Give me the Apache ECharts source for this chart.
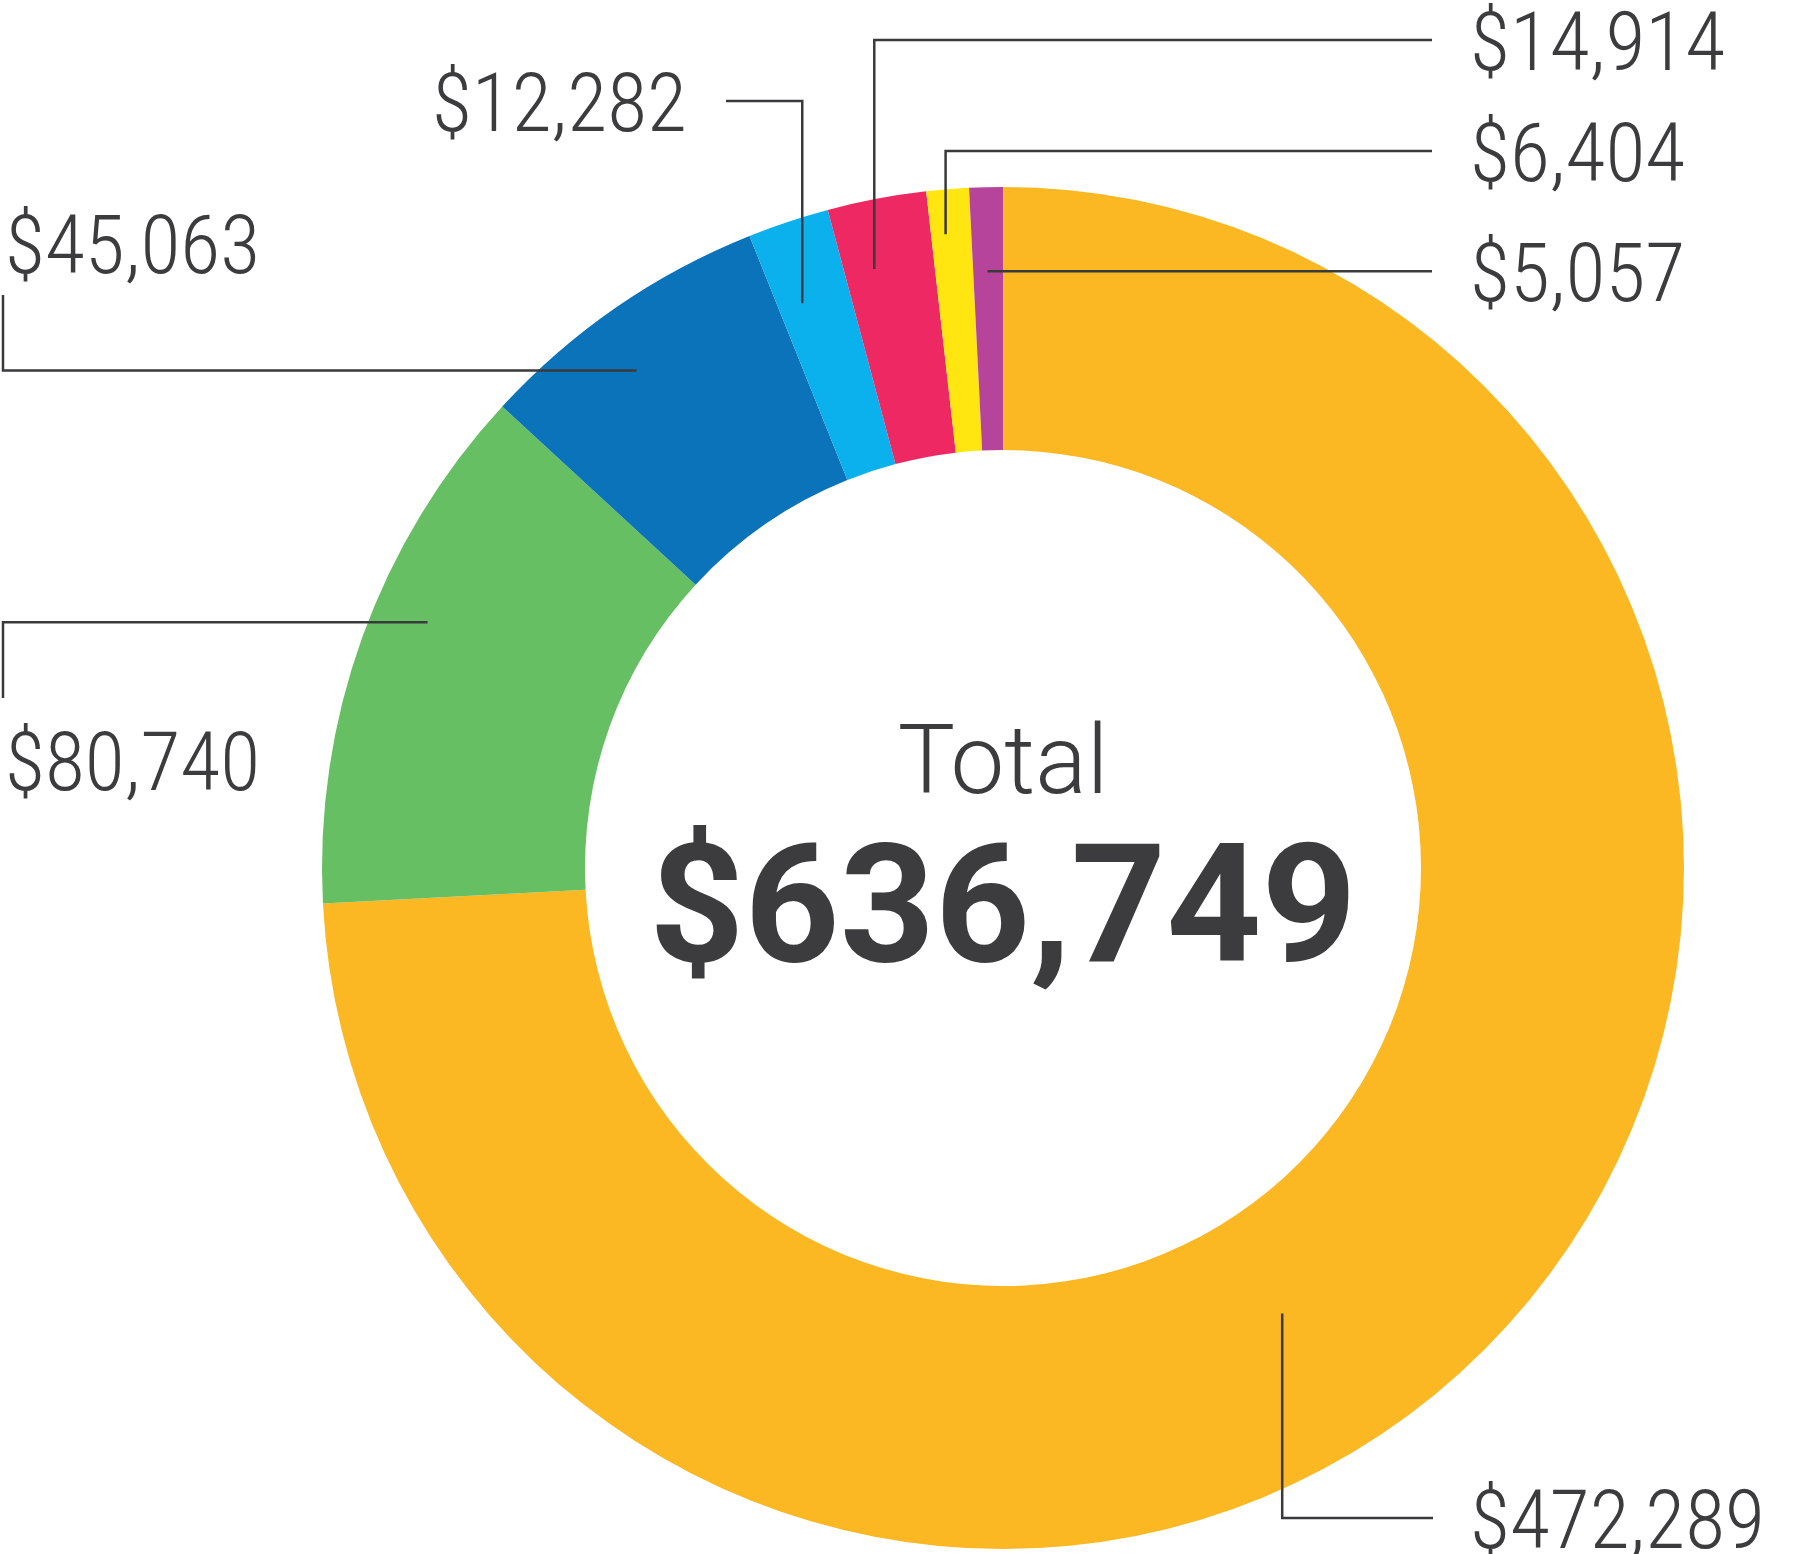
<!DOCTYPE html>
<html><head><meta charset="utf-8">
<script src="https://cdn.jsdelivr.net/npm/echarts@6/dist/echarts.min.js"></script>
<style>html,body{margin:0;padding:0;background:#fff}#main{width:1796px;height:1554px}</style>
</head><body><div id="main"></div>
<script>
// ---- data ----
const categories = ['Segment A', 'Segment B', 'Segment C', 'Segment D', 'Segment E', 'Segment F', 'Segment G'];
const values = [472289, 80740, 45063, 12282, 14914, 6404, 5057];
const colors = ['#FBB823', '#67BF63', '#0A73BA', '#0AB1EC', '#EE2862', '#FFE611', '#B7449B'];
const centerTitle = 'Total';

// ---- layout (annotation placement, not data) ----
const CX = 1003, CY = 868, R0 = 418, R1 = 681;
const labelPlan = [
  {frac: 0.554, rf: 0.41, route: 'v', lineY: 1518, lineEndX: 1433, tx: 1470, ty: 1518, align: 'left'},
  {frac: 0.572, rf: 0.79, route: 'h', lineX: 3, lineEndY: 698, tx: 5, ty: 760, align: 'left'},
  {frac: 0.43,  rf: 0.76, route: 'h', lineX: 3, lineEndY: 295, tx: 5, ty: 243, align: 'left'},
  {frac: 0.33,  rf: 0.69, route: 'v', lineY: 101, lineEndX: 726, tx: 687, ty: 101, align: 'right'},
  {frac: 0.33,  rf: 0.74, route: 'v', lineY: 40, lineEndX: 1432, tx: 1470, ty: 40, align: 'left'},
  {frac: 0.36,  rf: 0.83, route: 'v', lineY: 151, lineEndX: 1432, tx: 1470, ty: 151, align: 'left'},
  {frac: 0.48,  rf: 0.68, route: 's', lineEndX: 1432, tx: 1470, align: 'left'}
];
const TEXT = '#3c3c3e';
const LINE = '#3a3a3c';
const LABEL_FONT = "'Roboto Condensed', Roboto, sans-serif";
const LABEL_SIZE = 82;
const LABEL_DY = 9;

const fmt = v => '$' + v.toLocaleString('en-US');
const total = values.reduce((a, b) => a + b, 0);

const chart = echarts.init(document.getElementById('main'), null, {renderer: 'canvas'});

function sliceLayout(i) {
  try {
    const l = chart.getModel().getSeriesByIndex(0).getData().getItemLayout(i);
    if (l && l.startAngle != null) return l;
  } catch (e) {}
  let start = -Math.PI / 2;
  for (let k = 0; k < i; k++) start += values[k] / total * Math.PI * 2;
  return {cx: CX, cy: CY, r0: R0, r: R1, startAngle: start, endAngle: start + values[i] / total * Math.PI * 2};
}

function leader(i) {
  const p = labelPlan[i];
  const l = sliceLayout(i);
  const a = l.startAngle + p.frac * (l.endAngle - l.startAngle);
  const r = l.r0 + p.rf * (l.r - l.r0);
  const ax = l.cx + r * Math.cos(a), ay = l.cy + r * Math.sin(a);
  let pts, ty = p.ty;
  if (p.route === 'v') pts = [[ax, ay], [ax, p.lineY], [p.lineEndX, p.lineY]];
  else if (p.route === 'h') pts = [[ax, ay], [p.lineX, ay], [p.lineX, p.lineEndY]];
  else { pts = [[ax, ay], [p.lineEndX, ay]]; ty = ay; }
  return {pts: pts, ty: ty};
}

chart.setOption({
  animation: false,
  backgroundColor: '#ffffff',
  graphic: [
    {id: 'title', type: 'text', x: CX, y: 769, silent: true,
     style: {text: centerTitle, font: "300 96px Roboto", fill: TEXT, align: 'center', verticalAlign: 'middle'}},
    {id: 'total', type: 'text', x: CX, y: 919, silent: true,
     style: {text: fmt(total), font: "700 166px Roboto", fill: TEXT, align: 'center', verticalAlign: 'middle'}}
  ],
  series: [{
    type: 'pie',
    center: [CX, CY],
    radius: [R0, R1],
    startAngle: 90,
    clockwise: true,
    silent: true,
    avoidLabelOverlap: false,
    emphasis: {disabled: true},
    data: values.map((v, i) => ({name: categories[i], value: v, itemStyle: {color: colors[i]}})),
    label: {
      show: true,
      position: 'outside',
      overflow: 'none',
      formatter: p => fmt(p.value),
      color: TEXT,
      fontFamily: LABEL_FONT,
      fontSize: LABEL_SIZE,
      fontWeight: 300
    },
    labelLine: {show: false},
    labelLayout: function (params) {
      const i = params.dataIndex;
      const p = labelPlan[i];
      const g = leader(i);
      return {x: p.tx, y: g.ty + LABEL_DY, align: p.align, verticalAlign: 'middle'};
    }
  }]
});

// leader lines drawn above the sectors, from the pie's own computed slice geometry
chart.setOption({
  graphic: values.map((v, i) => ({
    id: 'lead' + i, type: 'polyline', z: 100, silent: true,
    shape: {points: leader(i).pts},
    style: {stroke: LINE, lineWidth: 2.5, fill: null}
  }))
});
</script>
</body></html>
